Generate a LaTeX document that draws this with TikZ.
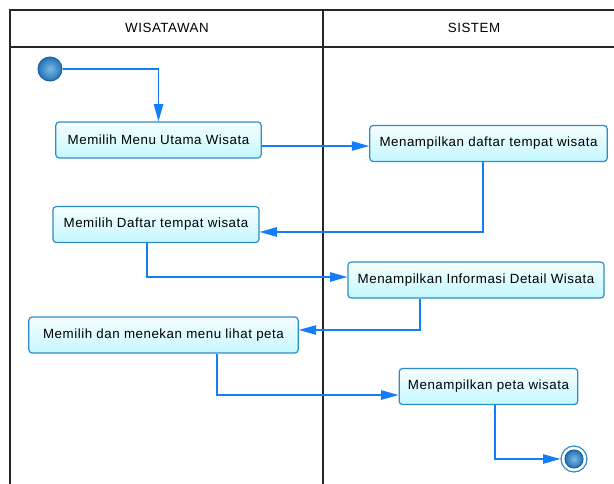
\documentclass[tikz,border=0pt]{standalone}
\usepackage{fontspec}
\setmainfont{Liberation Sans}[LetterSpace=4]
\usetikzlibrary{arrows.meta}

\definecolor{flowblue}{RGB}{20,125,250}
\definecolor{boxline}{RGB}{45,140,200}
\definecolor{boxfill}{RGB}{195,248,255}
\definecolor{dotblue}{RGB}{35,115,185}
\definecolor{dotlight}{RGB}{125,185,225}

\tikzset{
  activity/.style={draw=boxline, line width=0.9pt, rounded corners=2.5pt,
    top color=white!85!boxfill, bottom color=boxfill,
    minimum height=27pt, inner sep=0pt, font=\fontsize{10}{12}\selectfont},
  startdot/.style={circle, draw=dotblue!85!black, line width=0.8pt, inner sep=0pt,
    minimum size=18pt, inner color=dotlight, outer color=dotblue},
  endring/.style={circle, draw=boxline, line width=0.9pt, fill=white, inner sep=0pt,
    minimum size=19.5pt},
  flow/.style={draw=flowblue, line width=1.1pt, -{Triangle[length=13pt,width=7pt]}},
  lane/.style={line width=1.1pt, black!85},
  lanehead/.style={font=\fontsize{10}{12}\selectfont}
}

\begin{document}
\begin{tikzpicture}[x=0.75pt,y=-0.75pt]
  \useasboundingbox (0,0) rectangle (614,484);

  % swimlanes
  \draw[lane] (10,484) -- (10,10) -- (614,10);
  \draw[lane] (10,47) -- (614,47);
  \draw[lane] (323,10) -- (323,484);
  \node (headW) [lanehead] at (167,28) {WISATAWAN};
  \node (headS) [lanehead] at (474,28) {SISTEM};

  % activities
  \node (start) [startdot] at (50,69) {};
  \node (b1) [activity, minimum width=154pt] at (158.5,140) {Memilih Menu Utama Wisata};
  \node (b2) [activity, minimum width=178pt] at (488.5,143.5) {Menampilkan daftar tempat wisata};
  \node (b3) [activity, minimum width=154.5pt] at (156,224.5) {Memilih Daftar tempat wisata};
  \node (b4) [activity, minimum width=192pt] at (476,280) {Menampilkan Informasi Detail Wisata};
  \node (b5) [activity, minimum width=202pt] at (163.5,335) {Memilih dan menekan menu lihat peta};
  \node (b6) [activity, minimum width=134pt] at (488.5,386.5) {Menampilkan peta wisata};
  \node (stop) [endring] at (574,459) {};
  \node (stopdot) [startdot, minimum size=13.5pt] at (stop) {};

  % flows
  \draw[flow] (start.east) -| (b1.north);
  \draw[flow] ([yshift=-4.5pt]b1.east) -- ([yshift=-4.5pt]b1.east -| b2.west);
  \draw[flow] ([xshift=-4pt]b2.south) |- ([yshift=-5.6pt]b3.east);
  \draw[flow] ([xshift=-6.75pt]b3.south) |- ([yshift=2.25pt]b4.west);
  \draw[flow] ([xshift=-42pt]b4.south) |- ([yshift=3.75pt]b5.east);
  \draw[flow] ([xshift=40pt]b5.south) |- ([yshift=-6.4pt]b6.west);
  \draw[flow] ([xshift=5pt]b6.south) |- (stop.west);

\end{tikzpicture}
\end{document}
